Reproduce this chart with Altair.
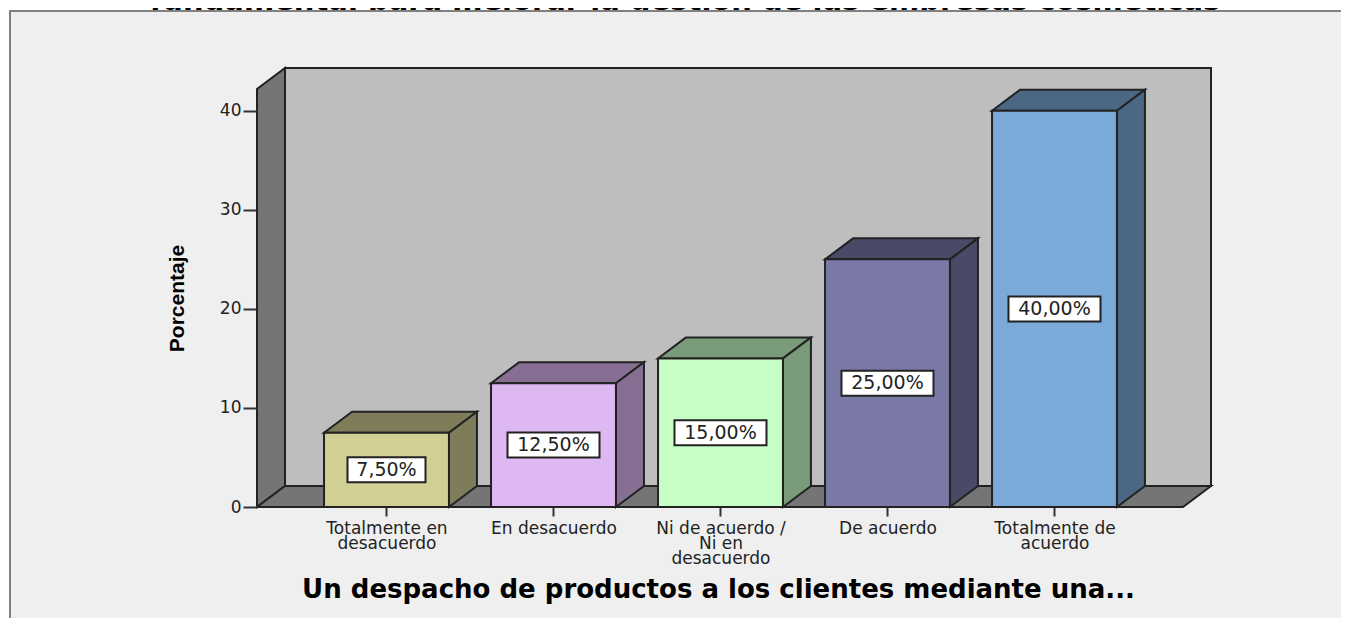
import json
import altair as alt
import pandas as pd

categories = [
    ["Totalmente en", "desacuerdo"],
    ["En desacuerdo"],
    ["Ni de acuerdo /", "Ni en", "desacuerdo"],
    ["De acuerdo"],
    ["Totalmente de", "acuerdo"],
]
values = [7.5, 12.5, 15.0, 25.0, 40.0]
value_labels = ["7,50%", "12,50%", "15,00%", "25,00%", "40,00%"]
front_colors = ["#d2cf95", "#deb8f2", "#c6ffc6", "#7a79a8", "#7ba9d8"]
shade_colors = ["#7f7d59", "#876f93", "#799b79", "#4a4966", "#4a6883"]
y_ticks = [0, 10, 20, 30, 40]
chart_title = "fundamental para mejorar la gestión de las empresas cosméticas"
x_title = "Un despacho de productos a los clientes mediante una..."
y_title = "Porcentaje"

X_LEFT, X_RIGHT = -0.7754, 4.7695
Y_TOP = 42.2
DX, DY = 28 / 167, 21 / 9.905
HALF = 0.374
EDGE = "#222222"
PANEL = "#efefef"
WALL = "#bebebe"
WALL_DARK = "#757575"

XS = alt.Scale(domain=[X_LEFT, X_RIGHT], nice=False, zero=False)
YS = alt.Scale(domain=[0, Y_TOP], nice=False, zero=False)

X_AXIS = alt.Axis(
    values=[0, 1, 2, 3, 4], domain=False, grid=False, zindex=1,
    tickSize=9, tickWidth=2, tickColor="#333333",
    labelExpr=json.dumps(categories) + "[datum.value]",
    labelFont="DejaVu Sans", labelFontSize=17, labelColor="#222222",
    labelLineHeight=15, labelPadding=4, labelOverlap=False,
    labelBound=False, labelFlush=False,
    title=x_title, titleFont="DejaVu Sans", titleFontSize=26,
    titleFontWeight="bold", titleColor="#000000",
    titleX=461, titleY=90, titleAlign="center",
    titleBaseline="alphabetic",
)
Y_AXIS = alt.Axis(
    values=y_ticks, domain=False, grid=False, zindex=1,
    tickSize=14, tickWidth=2, tickColor="#333333",
    labelFont="DejaVu Sans", labelFontSize=17, labelColor="#222222",
    labelPadding=2,
    title=y_title, titleFont="Liberation Sans", titleFontSize=21,
    titleFontWeight="bold", titleColor="#000000",
    titleX=-74, titleY=209, titleAlign="center", titleAngle=270,
    titleBaseline="alphabetic",
)


def X(f):
    return alt.X(f + ":Q", scale=XS, axis=X_AXIS)


def Y(f):
    return alt.Y(f + ":Q", scale=YS, axis=Y_AXIS)


bars = pd.DataFrame({
    "i": range(len(values)),
    "v": values,
    "label": value_labels,
    "front": front_colors,
    "shade": shade_colors,
})
bars["x0"] = bars.i - HALF
bars["x1"] = bars.i + HALF
bars["zero"] = 0.0
bars["mid"] = bars.v / 2
half_box = bars.label.str.len().map(lambda n: 39 / 167 if n < 6 else 46 / 167)
bars["bx0"] = bars.i - half_box
bars["bx1"] = bars.i + half_box
bars["by0"] = bars.mid - 12.5 / 9.905
bars["by1"] = bars.mid + 12.5 / 9.905

rows_top, rows_side = [], []
for r in bars.itertuples():
    rows_top += [
        {"i": r.i, "c": r.shade, "y": r.v, "a": r.x0, "b": r.x1},
        {"i": r.i, "c": r.shade, "y": r.v + DY, "a": r.x0 + DX, "b": r.x1 + DX},
    ]
    rows_side += [
        {"i": r.i, "c": r.shade, "x": r.x1, "a": 0.0, "b": r.v},
        {"i": r.i, "c": r.shade, "x": r.x1 + DX, "a": DY, "b": r.v + DY},
    ]
top_df = pd.DataFrame(rows_top)
side_df = pd.DataFrame(rows_side)

# baseline sits just above the panel: the top of the page cuts its upper part
title_layer = alt.Chart(pd.DataFrame({"t": [chart_title]})).mark_text(
    font="DejaVu Sans", fontWeight="bold", fontSize=29, align="center",
    baseline="alphabetic", color="#000000",
).encode(x=alt.value(428), y=alt.value(-79), text="t:N")

panel = alt.Chart(pd.DataFrame({"p": [0]})).mark_rect(
    fill=PANEL, stroke="#808080", strokeWidth=2
).encode(x=alt.value(-247), x2=alt.value(1200), y=alt.value(-78), y2=alt.value(700))

back_wall = alt.Chart(pd.DataFrame({
    "a": [X_LEFT + DX], "b": [X_RIGHT + DX], "c": [DY], "d": [Y_TOP + DY]
})).mark_rect(fill=WALL, stroke=EDGE, strokeWidth=2).encode(
    x=X("a"), x2="b:Q", y=Y("c"), y2="d:Q"
)

left_wall = alt.Chart(pd.DataFrame({
    "x": [X_LEFT, X_LEFT + DX], "a": [0.0, DY], "b": [Y_TOP, Y_TOP + DY]
})).mark_area(orient="vertical", fill=WALL_DARK, stroke=EDGE, strokeWidth=2).encode(
    x=X("x"), y=Y("a"), y2="b:Q"
)

floor = alt.Chart(pd.DataFrame({
    "y": [0.0, DY], "a": [X_LEFT, X_LEFT + DX], "b": [X_RIGHT, X_RIGHT + DX]
})).mark_area(orient="horizontal", fill=WALL_DARK, stroke=EDGE, strokeWidth=2).encode(
    y=Y("y"), x=X("a"), x2="b:Q"
)

top_faces = alt.Chart(top_df).mark_area(
    orient="horizontal", stroke=EDGE, strokeWidth=2
).encode(
    y=Y("y"), x=X("a"), x2="b:Q", detail="i:N",
    fill=alt.Fill("c:N", scale=None),
)

side_faces = alt.Chart(side_df).mark_area(
    orient="vertical", stroke=EDGE, strokeWidth=2
).encode(
    x=X("x"), y=Y("a"), y2="b:Q", detail="i:N",
    fill=alt.Fill("c:N", scale=None),
)

front_faces = alt.Chart(bars).mark_rect(stroke=EDGE, strokeWidth=2).encode(
    x=X("x0"), x2="x1:Q", y=Y("zero"), y2="v:Q",
    fill=alt.Fill("front:N", scale=None),
)

label_boxes = alt.Chart(bars).mark_rect(
    fill="#ffffff", stroke="#222222", strokeWidth=2
).encode(x=X("bx0"), x2="bx1:Q", y=Y("by0"), y2="by1:Q")

label_text = alt.Chart(bars).mark_text(
    font="DejaVu Sans", fontSize=19, color="#222222", align="center", baseline="middle"
).encode(x=X("i"), y=Y("mid"), text="label:N")

chart = alt.layer(
    title_layer, panel, back_wall, left_wall, floor,
    top_faces, side_faces, front_faces, label_boxes, label_text,
).properties(
    width=926, height=418,
    padding={"left": 249, "top": 81, "right": 158, "bottom": 111},
    autosize=alt.AutoSizeParams(type="none"),
    background="#ffffff",
).configure_view(stroke=None)

chart.save("out.html", embed_options={"renderer": "svg", "actions": False})
